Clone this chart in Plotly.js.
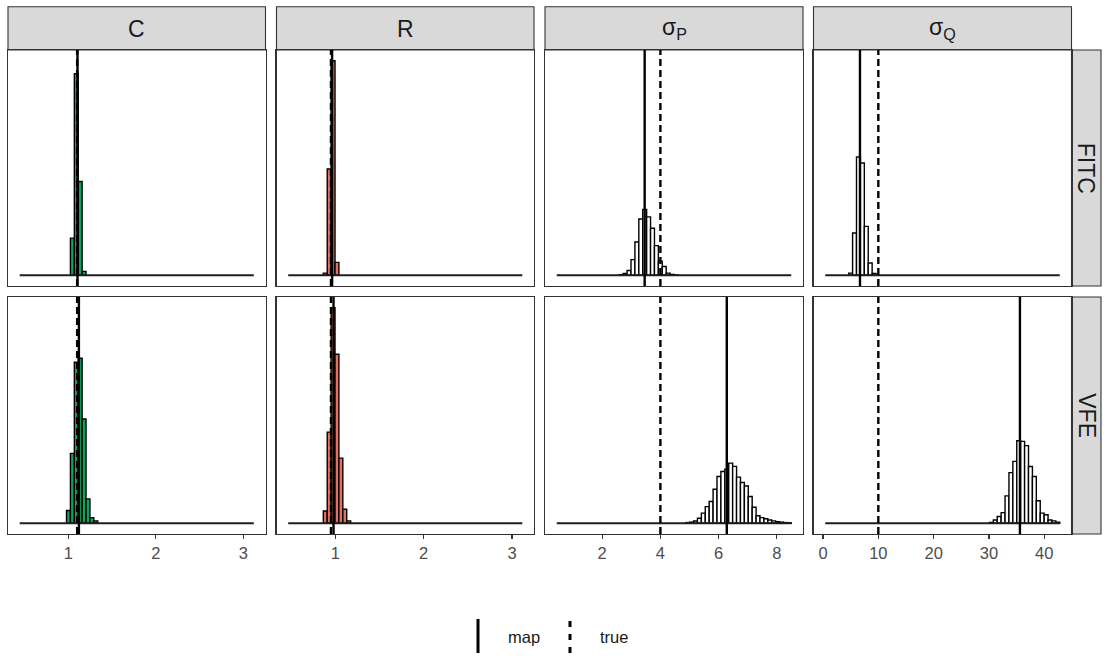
<!DOCTYPE html>
<html>
<head>
<meta charset="utf-8">
<script src="https://cdn.plot.ly/plotly-3.0.1.min.js"></script>
<style>
  html, body { margin: 0; padding: 0; background: #ffffff; }
  #chart { width: 1109px; height: 658px; }
</style>
</head>
<body>
<div id="chart"></div>
<script>
// Posterior histograms of four parameters under two sparse approximations.
const params = ['C', 'R', 'σ<sub>P</sub>', 'σ<sub>Q</sub>'];
const methods = ['FITC', 'VFE'];

// 60 equal bins per parameter between these bounds
const nBins = 60;
const binLo = [0.443, 0.466, 0.44, 0.4];
const binHi = [3.12, 3.116, 8.495, 42.8];
const fillColors = ['#0BA459', '#E6705F', '#FFFFFF', '#FFFFFF'];

// counts of the non-empty bins, starting at the given bin index
const cFitcFirst = 13;
const cFitc = [173, 940, 437, 18];
const rFitcFirst = 9;
const rFitc = [10, 495, 1000, 60];
const spFitcFirst = 16;
const spFitc = [3, 8, 22, 73, 155, 262, 307, 272, 219, 138, 66, 41, 10, 4, 2];
const sqFitcFirst = 6;
const sqFitc = [10, 197, 551, 523, 228, 57, 8];

const cVfeFirst = 12;
const cVfe = [59, 324, 747, 766, 484, 113, 26, 11];
const rVfeFirst = 9;
const rVfe = [57, 423, 1000, 784, 302, 65, 11];
const spVfeFirst = 33;
const spVfe = [3, 5, 10, 23, 47, 77, 101, 158, 217, 240, 251, 279, 264, 214, 189, 173, 124, 74, 35, 26, 21, 15, 11, 7, 5, 3, 2];
const sqVfeFirst = 42;
const sqVfe = [4, 15, 31, 49, 127, 235, 287, 383, 380, 360, 263, 217, 104, 47, 39, 15, 11, 5];

// reference values: true parameters and MAP estimates
const trueVals = [1.1, 0.95, 4, 10];
const mapFitc = [1.104, 0.963, 3.46, 6.68];
const mapVfe = [1.12, 0.979, 6.28, 35.6];

const tickVals = [[1, 2, 3], [1, 2, 3], [2, 4, 6, 8], [0, 10, 20, 30, 40]];

const legendLabels = ['map', 'true'];

// ---------------------------------------------------------------------------
const counts = [
  [[cFitcFirst, cFitc], [rFitcFirst, rFitc], [spFitcFirst, spFitc], [sqFitcFirst, sqFitc]],
  [[cVfeFirst, cVfe], [rVfeFirst, rVfe], [spVfeFirst, spVfe], [sqVfeFirst, sqVfe]]
];
const mapVals = [mapFitc, mapVfe];

const W = 1109, H = 658;
const FONT = '"Liberation Sans", Arial, Helvetica, sans-serif';
const colPx = [[8, 265.5], [276.5, 534], [545, 803], [813.5, 1071.5]];
const rowPx = [[50, 286], [297, 534]];
const stripTopPx = [6.7, 50];
const stripRightPx = [1071.5, 1101];
const px = v => v / W;
const py = v => 1 - v / H;

const traces = [];
const shapes = [];
const annotations = [];
const layout = {
  width: W, height: H,
  margin: { l: 0, r: 0, t: 0, b: 0 },
  paper_bgcolor: '#ffffff',
  plot_bgcolor: '#ffffff',
  showlegend: false,
  font: { family: FONT, color: '#1A1A1A' }
};

const rowMax = counts.map(row => Math.max(...row.map(p => Math.max(...p[1]))));

for (let r = 0; r < 2; r++) {
  for (let c = 0; c < 4; c++) {
    const idx = r * 4 + c + 1;
    const sfx = idx === 1 ? '' : String(idx);
    const xa = 'x' + sfx, ya = 'y' + sfx;
    const lo = binLo[c], hi = binHi[c];
    const w = (hi - lo) / nBins;
    const [first, vals] = counts[r][c];

    // zero-count bins form a flat line along the baseline
    traces.push({
      type: 'scatter', mode: 'lines', x: [lo, hi], y: [0, 0],
      xaxis: xa, yaxis: ya, hoverinfo: 'skip',
      line: { color: '#1E1E1E', width: 1.8 }
    });
    traces.push({
      type: 'bar', xaxis: xa, yaxis: ya,
      x: vals.map((_, i) => lo + (first + i + 0.5) * w),
      y: vals, width: vals.map(() => w),
      marker: { color: fillColors[c], line: { color: '#000000', width: 1.4 } }
    });

    const span = hi - lo;
    layout['xaxis' + sfx] = {
      domain: [px(colPx[c][0]), px(colPx[c][1])],
      range: [lo - 0.05 * span, hi + 0.05 * span],
      anchor: ya,
      showgrid: false, zeroline: false,
      showline: true, mirror: true, linecolor: '#333333', linewidth: 1.1,
      tickmode: 'array', tickvals: tickVals[c], ticktext: tickVals[c].map(String),
      ticks: r === 1 ? 'outside' : '', ticklen: 4, tickwidth: 1.1, tickcolor: '#333333',
      showticklabels: r === 1,
      tickfont: { family: FONT, size: 16.5, color: '#4D4D4D' },
      fixedrange: true
    };
    layout['yaxis' + sfx] = {
      domain: [py(rowPx[r][1]), py(rowPx[r][0])],
      range: [-0.05 * rowMax[r], 1.05 * rowMax[r]],
      anchor: xa,
      showgrid: false, zeroline: false,
      showline: true, mirror: true, linecolor: '#333333', linewidth: 1.1,
      ticks: '', showticklabels: false, fixedrange: true
    };

    // MAP estimate (solid) and true value (dashed)
    shapes.push({
      type: 'line', xref: xa, yref: ya + ' domain',
      x0: mapVals[r][c], x1: mapVals[r][c], y0: 0, y1: 1,
      line: { color: '#000000', width: 2.4 }
    });
    shapes.push({
      type: 'line', xref: xa, yref: ya + ' domain',
      x0: trueVals[c], x1: trueVals[c], y0: 0, y1: 1,
      line: { color: '#000000', width: 2.4, dash: '7px,4px' }
    });
  }
}

// column strips
for (let c = 0; c < 4; c++) {
  shapes.push({
    type: 'rect', xref: 'paper', yref: 'paper', layer: 'below',
    x0: px(colPx[c][0]), x1: px(colPx[c][1]), y0: py(stripTopPx[1]), y1: py(stripTopPx[0]),
    fillcolor: '#D9D9D9', line: { color: '#333333', width: 1.1 }
  });
  annotations.push({
    xref: 'paper', yref: 'paper', showarrow: false,
    x: px((colPx[c][0] + colPx[c][1]) / 2), y: py(29),
    xanchor: 'center', yanchor: 'middle',
    text: params[c], font: { family: FONT, size: 23, color: '#1A1A1A' }
  });
}
// row strips
for (let r = 0; r < 2; r++) {
  shapes.push({
    type: 'rect', xref: 'paper', yref: 'paper', layer: 'below',
    x0: px(stripRightPx[0]), x1: px(stripRightPx[1]), y0: py(rowPx[r][1]), y1: py(rowPx[r][0]),
    fillcolor: '#D9D9D9', line: { color: '#333333', width: 1.1 }
  });
  annotations.push({
    xref: 'paper', yref: 'paper', showarrow: false,
    x: px((stripRightPx[0] + stripRightPx[1]) / 2), y: py((rowPx[r][0] + rowPx[r][1]) / 2),
    xanchor: 'center', yanchor: 'middle', textangle: 90,
    text: methods[r], font: { family: FONT, size: 23, color: '#1A1A1A' }
  });
}

// legend: line keys with labels
const keyX = [478, 570];
const keyDash = ['solid', '6px,7px'];
for (let k = 0; k < 2; k++) {
  shapes.push({
    type: 'line', xref: 'paper', yref: 'paper',
    x0: px(keyX[k]), x1: px(keyX[k]), y0: py(653), y1: py(619),
    line: { color: '#000000', width: 3, dash: keyDash[k] }
  });
  annotations.push({
    xref: 'paper', yref: 'paper', showarrow: false,
    x: px(keyX[k] + 28), y: py(637), xanchor: 'left', yanchor: 'middle',
    text: legendLabels[k], font: { family: FONT, size: 16.5, color: '#1A1A1A' }
  });
}

layout.shapes = shapes;
layout.annotations = annotations;

Plotly.newPlot('chart', traces, layout, { displayModeBar: false, staticPlot: true });
</script>
</body>
</html>
